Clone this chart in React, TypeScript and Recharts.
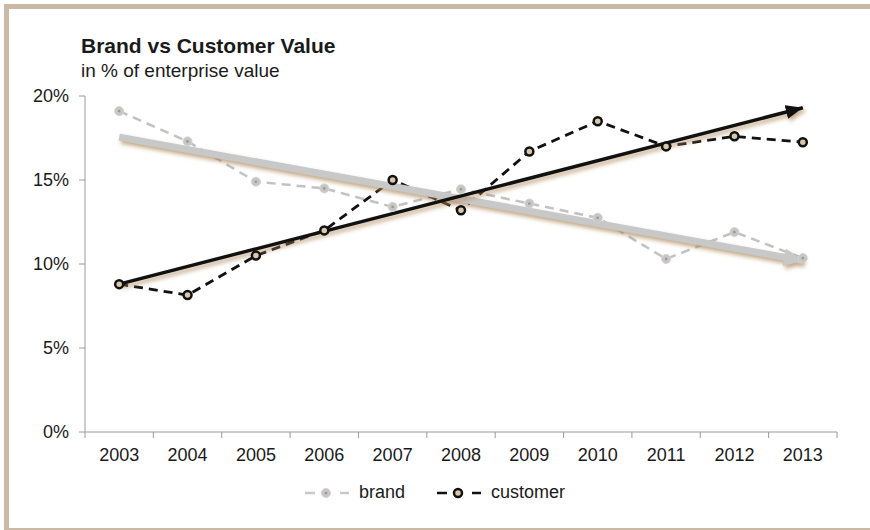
import React from 'react';
import { LineChart, Line, XAxis, YAxis } from 'recharts';

const years = ['2003', '2004', '2005', '2006', '2007', '2008', '2009', '2010', '2011', '2012', '2013'];
const brand = [19.1, 17.3, 14.9, 14.5, 13.4, 14.45, 13.6, 12.75, 10.3, 11.9, 10.35];
const customer = [8.8, 8.15, 10.5, 12.0, 15.0, 13.2, 16.7, 18.5, 17.0, 17.6, 17.25];
// trend arrows: only the start and end values
const brandTrend = [17.55, null, null, null, null, null, null, null, null, null, 10.2];
const customerTrend = [8.8, null, null, null, null, null, null, null, null, null, 19.3];
const yTicks = [0, 5, 10, 15, 20];

const data = years.map((year, i) => ({
  year,
  brand: brand[i],
  customer: customer[i],
  brandTrend: brandTrend[i],
  customerTrend: customerTrend[i],
}));

const FONT = '"Liberation Sans", Arial, sans-serif';
const W = 870;
const H = 530;
const MARGIN = { top: 96, right: 33, left: 0, bottom: 58 };
const Y_WIDTH = 85;
const HALF_BAND = (W - MARGIN.right - Y_WIDTH) / years.length / 2;

const BrandDot = (props: any) => {
  const { cx, cy } = props;
  if (cx == null || cy == null) return null;
  return (
    <g>
      <circle cx={cx} cy={cy} r={4.5} fill="#c6c6c6" stroke="#d4d4d4" strokeWidth={1} />
      <circle cx={cx} cy={cy} r={1.3} fill="#a8957a" />
    </g>
  );
};

const CustomerDot = (props: any) => {
  const { cx, cy } = props;
  if (cx == null || cy == null) return null;
  return <circle cx={cx} cy={cy} r={4} fill="#d8c8ae" stroke="#111" strokeWidth={2.5} />;
};

const YearTick = (props: any) => {
  const { x, y, payload, index } = props;
  const last = index === years.length - 1;
  return (
    <g>
      <line x1={x - HALF_BAND} x2={x - HALF_BAND} y1={y} y2={y + 6} stroke="#9a9a9a" />
      {last && <line x1={x + HALF_BAND} x2={x + HALF_BAND} y1={y} y2={y + 6} stroke="#9a9a9a" />}
      <text x={x} y={y + 29} textAnchor="middle" fontSize={18} fill="#1a1a1a" fontFamily={FONT}>
        {payload.value}
      </text>
    </g>
  );
};

const LegendItem = ({ label, color, dot }: { label: string; color: string; dot: React.ReactNode }) => (
  <div style={{ display: 'flex', alignItems: 'center' }}>
    <svg width={46} height={16} style={{ marginRight: 8 }}>
      <line x1={0} x2={10} y1={8} y2={8} stroke={color} strokeWidth={2.5} />
      <g transform="translate(21,8)">{dot}</g>
      <line x1={35} x2={44} y1={8} y2={8} stroke={color} strokeWidth={2.5} />
    </svg>
    <span style={{ fontSize: 18, color: '#1a1a1a' }}>{label}</span>
  </div>
);

export default function App() {
  return (
    <div
      style={{
        position: 'fixed',
        left: 0,
        top: 0,
        width: W,
        height: H,
        background: '#fff',
        overflow: 'hidden',
        fontFamily: FONT,
      }}
    >
      <style>{`
        .trend-shadow { filter: drop-shadow(2px 3px 2px rgba(170, 130, 80, 0.7)); }
      `}</style>
      <div
        style={{
          position: 'absolute',
          left: 4,
          top: 4,
          width: W,
          height: 529,
          boxSizing: 'border-box',
          borderTop: '5px solid #c9b9a5',
          borderLeft: '5px solid #c9b9a5',
          borderBottom: '5px solid #c9b9a5',
        }}
      />
      <div style={{ position: 'absolute', left: 81, top: 34, fontSize: 21, fontWeight: 'bold', color: '#1a1a1a' }}>
        Brand vs Customer Value
      </div>
      <div style={{ position: 'absolute', left: 81, top: 60, fontSize: 19, color: '#1a1a1a' }}>
        in % of enterprise value
      </div>

      <div style={{ position: 'absolute', left: 0, top: 0 }}>
        <LineChart width={W} height={H} data={data} margin={MARGIN}>
          <defs>
            <marker id="arrowBlack" markerUnits="userSpaceOnUse" markerWidth={18} markerHeight={14} refX={17} refY={7} orient="auto">
              <path d="M0,0 L17,7 L0,14 Z" fill="#111" />
            </marker>
            <marker id="arrowGray" markerUnits="userSpaceOnUse" markerWidth={20} markerHeight={18} refX={19} refY={9} orient="auto">
              <path d="M0,0 L19,9 L0,18 Z" fill="#c8c8c8" />
            </marker>
          </defs>
          <XAxis
            dataKey="year"
            height={40}
            padding={{ left: HALF_BAND, right: HALF_BAND }}
            axisLine={{ stroke: '#9a9a9a' }}
            tickLine={false}
            tickSize={0}
            tickMargin={0}
            interval={0}
            tick={<YearTick />}
          />
          <YAxis
            width={Y_WIDTH}
            domain={[0, 20]}
            ticks={yTicks}
            tickFormatter={(v) => `${v}%`}
            axisLine={{ stroke: '#9a9a9a' }}
            tickLine={{ stroke: '#9a9a9a' }}
            tickSize={6}
            tickMargin={10}
            tick={{ fontSize: 18, fill: '#1a1a1a', fontFamily: FONT }}
          />
          <Line
            dataKey="brand"
            stroke="#c2c2c2"
            strokeWidth={2.5}
            strokeDasharray="9 6"
            dot={<BrandDot />}
            activeDot={false}
            isAnimationActive={false}
          />
          <Line
            dataKey="customer"
            stroke="#111"
            strokeWidth={2.8}
            strokeDasharray="9 6"
            dot={<CustomerDot />}
            activeDot={false}
            isAnimationActive={false}
          />
          <Line
            dataKey="brandTrend"
            className="trend-shadow"
            stroke="#c8c8c8"
            strokeWidth={7}
            connectNulls
            dot={false}
            activeDot={false}
            markerEnd="url(#arrowGray)"
            isAnimationActive={false}
          />
          <Line
            dataKey="customerTrend"
            className="trend-shadow"
            stroke="#111"
            strokeWidth={3.5}
            connectNulls
            dot={false}
            activeDot={false}
            markerEnd="url(#arrowBlack)"
            isAnimationActive={false}
          />
        </LineChart>
      </div>

      <div
        style={{
          position: 'absolute',
          left: 0,
          top: 482,
          width: W,
          display: 'flex',
          justifyContent: 'center',
          gap: 32,
        }}
      >
        <LegendItem label="brand" color="#c8c8c8" dot={<BrandDot cx={0} cy={0} />} />
        <LegendItem label="customer" color="#111" dot={<CustomerDot cx={0} cy={0} />} />
      </div>
    </div>
  );
}
